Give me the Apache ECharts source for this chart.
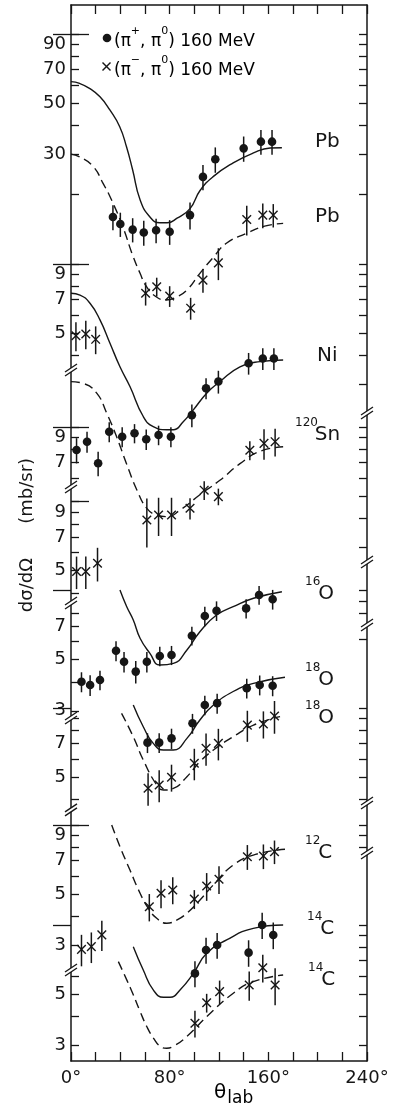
<!DOCTYPE html>
<html>
<head>
<meta charset="utf-8">
<script src="https://cdn.jsdelivr.net/npm/echarts@6/dist/echarts.min.js"></script>
<style>
  html, body { margin: 0; padding: 0; background: #fff; }
  #chart { width: 397px; height: 1118px; }
</style>
</head>
<body>
<div id="chart"></div>
<script>
// angle in degrees, dσ/dΩ in mb/sr; each panel is read against its own broken-axis segment
const pbPlusCurve = [[0,62],[7,60.9],[15,58],[23.5,53.3],[31.5,46.7],[39.5,39.5],[45,32.3],[50,25.6],[56,19],[64,16],[72,15.1],[78,15.1],[86,15.8],[96.5,17.4],[104.5,20.8],[115,23.9],[131.5,27.5],[147.5,30.3],[161.5,31.9],[171,32]]
const pbPlusPts = [[34,16.0,2.0],[40,14.9,1.8],[50,14.1,1.7],[59,13.7,1.7],[69,14.0,1.7],[80,13.8,1.7],[96.5,16.3,2.2],[107,23.9,3.0],[117,28.5,3.6],[140,31.8,4.0],[154,34.0,4.2],[163,34.0,4.2]]
const pbMinusCurve = [[0,30],[7,29.2],[18,26.5],[26,22.4],[33,18.9],[42,14.5],[50,10.9],[56,9.1],[61,8.0],[69,7.2],[77,6.97],[86,7.2],[94,7.7],[104.5,9.1],[115.5,10.7],[126,12.3],[142.5,13.6],[157,14.6],[172,15.0]]
const pbMinusPts = [[4,4.87,0.7],[12,4.96,0.7],[20,4.7,0.65],[60.5,7.45,0.86],[69.5,7.96,0.75],[80,7.25,0.75],[97,6.42,0.7],[107,8.5,1.0],[119.5,10.1,1.6],[142.5,15.6,2.3],[155.5,16.3,2.0],[164,16.3,1.9]]
const niCurve = [[0,7.45],[7.3,7.32],[15.4,6.74],[23.5,5.71],[31.6,4.52],[39.7,3.57],[47.8,2.93],[58.6,2.17],[66.7,1.96],[77.6,1.9],[83,1.9],[91,2.06],[99.2,2.32],[110,2.74],[120.8,3.08],[137,3.57],[153.3,3.76],[172,3.82]]
const niPts = [[98,2.2,0.25],[109.5,2.88,0.3],[119.5,3.08,0.35],[144,3.7,0.4],[155.5,3.88,0.42],[164.5,3.88,0.42]]
const snPlusPts = [[4.5,7.94,1.0],[13,8.63,0.9],[22,6.95,0.85],[31,9.54,0.95],[41.5,9.07,0.9],[51.5,9.39,0.9],[61,8.84,0.9],[71,9.23,0.9],[81,9.07,0.9]]
const snMinusCurve = [[0,33.2],[10,32.6],[21,29.5],[29,24.2],[37,19.1],[45,14.6],[53.5,11.2],[61.5,9.34],[69.5,8.73],[77.5,8.59],[88.5,9.18],[104.5,10.7],[121,12.4],[137,14.6],[153,16.5],[172,17.3]]
const snMinusPts = [[4.5,4.96,0.8],[12,4.96,0.8],[21.5,5.39,0.9],[61.5,8.31,2.0],[71,8.73,1.65],[81.5,8.73,1.65],[96.5,9.34,1.0],[108,11.2,1.05],[119.5,10.5,0.87],[145,16.7,1.6],[156.5,17.9,2.7],[165.5,18.2,2.5]]
const o16Curve = [[39.7,10.05],[45.2,8.5],[50.5,7.44],[56,6.2],[64,5.33],[72,4.74],[83,4.82],[94,5.51],[104.5,6.62],[118,7.82],[131.5,8.5],[148,9.25],[171,9.88]]
const o16Pts = [[8.5,4.01,0.4],[15.5,3.88,0.4],[23.5,4.08,0.4],[36.5,5.47,0.55],[43,4.9,0.5],[52.5,4.44,0.5],[61.5,4.9,0.5],[72,5.19,0.5],[81.5,5.24,0.5],[98,6.36,0.6],[108.5,7.75,0.75],[118,8.17,0.8],[142,8.36,0.8],[152.5,9.56,0.9],[163.5,9.16,0.9]]
const o18PlusCurve = [[50.5,10.3],[58.6,8.29],[66.7,7.02],[75,6.57],[83,6.57],[94,7.38],[104.5,8.87],[115.5,10.3],[131.5,11.8],[148,12.8],[173.5,13.6]]
const o18PlusPts = [[62,7.07,0.7],[71.5,7.07,0.7],[81.5,7.38,0.75],[98.5,8.58,0.85],[108.5,10.3,1.0],[118.5,10.5,1.05],[142.5,12.2,1.2],[153,12.6,1.25],[163.5,12.5,1.25]]
const o18MinusCurve = [[41,9.48],[50.5,7.5],[58.6,5.94],[69.5,4.63],[75,4.4],[83,4.47],[94,5.03],[104.5,5.84],[115.5,6.57],[131.5,7.5],[148,8.43],[169.5,9.17]]
const o18MinusPts = [[62.5,4.48,0.72],[71.5,4.63,0.74],[81.5,5.0,0.67],[100,5.75,0.9],[109.5,6.68,1.07],[119.5,7.02,1.1],[143,8.43,1.3],[156,8.52,1.15],[165,9.23,1.5]]
const c12Curve = [[33,10.0],[39.7,8.05],[47.8,6.37],[56,5.05],[62.7,4.34],[69.5,3.93],[77.6,3.74],[85.7,3.86],[93.8,4.13],[104.6,4.72],[115.4,5.49],[131.6,6.7],[147.8,7.4],[173.5,7.84]]
const c12Pts = [[8.5,2.88,0.45],[16.5,2.96,0.45],[25,3.33,0.5],[63.5,4.41,0.6],[73,5.05,0.7],[82.5,5.22,0.7],[100,4.76,0.45],[110,5.43,0.75],[120,5.81,0.8],[143,7.28,0.9],[156,7.33,0.9],[165,7.66,0.9]]
const c14PlusCurve = [[50.5,8.05],[58.6,6.37],[66.7,5.22],[75,4.85],[80.3,4.85],[88.4,5.22],[99.2,6.16],[110,7.53],[126.2,8.61],[147.8,9.67],[172,10.0]]
const c14PlusPts = [[100.5,6.16,0.8],[109.5,7.79,1.0],[118.5,8.18,1.05],[144,7.58,1.0],[155,10.0,1.3],[164,9.05,1.2]]
const c14MinusCurve = [[38.4,6.93],[45.2,5.77],[50.5,4.97],[56,4.21],[61.4,3.62],[66.7,3.23],[72.2,2.97],[77.6,2.91],[83,2.97],[93.8,3.27],[110,3.99],[131.6,5.05],[147.8,5.67],[172,6.06]]
const c14MinusPts = [[100.5,3.74,0.5],[110,4.59,0.43],[120.5,5.13,0.6],[144.5,5.48,0.8],[155.5,6.52,0.9],[165.5,5.48,1.0]]

// axis segments: decade shift d, tick values, labelled values, long (decade) ticks
const leftSegs = [
  { d: 0, ticks: [100,90,80,70,60,50,40,30,20,10,9,8,7,6,5,4], labels: [90,70,50,30,9,7,5], long: [100,10] },
  { d: 0.709, ticks: [10,9,8,7,6], labels: [9,7], long: [10] },
  { d: 1.033, ticks: [10,9,8,7,6,5,4], labels: [9,7,5], long: [10] },
  { d: 1.42, ticks: [8,7,6,5,4,3], labels: [7,5,3], long: [] },
  { d: 1.931, ticks: [9,8,7,6,5,4], labels: [7,5], long: [] },
  { d: 2.4396, ticks: [10,9,8,7,6,5,4,3], labels: [9,7,5,3], long: [10] },
  { d: 2.8743, ticks: [6,5,4,3], labels: [5,3], long: [] }
]
const rightSegs = [
  { d: 0, ticks: [100,90,80,70,60,50,40,30,20,10,9,8,7,6,5,4,3], long: [100,10] },
  { d: 0.709, ticks: [10,9,8,7,6,5,4,3], long: [10] },
  { d: 1.42, ticks: [10,9,8], long: [10] },
  { d: 1.931, ticks: [20,10,9,8,7,6,5,4], long: [10] },
  { d: 2.4396, ticks: [10,9,8], long: [10] },
  { d: 2.8743, ticks: [10,9,8,7,6,5,4,3], long: [10] }
]
const leftBreaks = [0.539, 0.030, -0.474, -0.974, -1.374, -2.070]
const rightBreaks = [0.352, -0.296, -0.570, -1.344, -1.561]
const U_MAX = 2.1257
const U_MIN = -2.4657

const INK = '#161616'
const FONT = 'DejaVu Sans'

const toU = (v, d) => Math.log10(v) - d

const panels = [
  { curve: pbPlusCurve, pts: pbPlusPts, d: 0, dashed: false, mark: 'dot' },
  { curve: pbMinusCurve, pts: pbMinusPts, d: 0, dashed: true, mark: 'cross' },
  { curve: niCurve, pts: niPts, d: 0, dashed: false, mark: 'dot' },
  { curve: null, pts: snPlusPts, d: 0.709, dashed: false, mark: 'dot' },
  { curve: snMinusCurve, pts: snMinusPts, d: 1.033, dashed: true, mark: 'cross' },
  { curve: o16Curve, pts: o16Pts, d: 1.42, dashed: false, mark: 'dot' },
  { curve: o18PlusCurve, pts: o18PlusPts, d: 1.931, dashed: false, mark: 'dot' },
  { curve: o18MinusCurve, pts: o18MinusPts, d: 1.931, dashed: true, mark: 'cross' },
  { curve: c12Curve, pts: c12Pts, d: 2.4396, dashed: true, mark: 'cross' },
  { curve: c14PlusCurve, pts: c14PlusPts, d: 2.8743, dashed: false, mark: 'dot' },
  { curve: c14MinusCurve, pts: c14MinusPts, d: 2.8743, dashed: true, mark: 'cross' }
]

const seg = (x1, y1, x2, y2, w) => ({ type: 'line', shape: { x1, y1, x2, y2 }, style: { stroke: INK, lineWidth: w || 1.5 } })

const markRenderer = kind => (params, api) => {
  const p = api.coord([api.value(0), api.value(1)])
  const lo = api.coord([api.value(0), api.value(2)])
  const hi = api.coord([api.value(0), api.value(3)])
  const kids = [seg(p[0], lo[1], p[0], hi[1], 1.5)]
  if (kind === 'dot') {
    kids.push({ type: 'circle', shape: { cx: p[0], cy: p[1], r: 4.3 }, style: { fill: INK } })
  } else {
    const s = 4.3
    kids.push(seg(p[0] - s, p[1] - s, p[0] + s, p[1] + s, 1.4), seg(p[0] - s, p[1] + s, p[0] + s, p[1] - s, 1.4))
  }
  return { type: 'group', children: kids }
}

const breakRenderer = (params, api) => {
  const p = api.coord([api.value(0), api.value(1)])
  return {
    type: 'group',
    children: [
      { type: 'rect', shape: { x: p[0] - 2.5, y: p[1] - 2, width: 5, height: 4 }, style: { fill: '#fff' } },
      seg(p[0] - 6, p[1] + 2, p[0] + 6, p[1] - 6, 1.3),
      seg(p[0] - 6, p[1] + 6, p[0] + 6, p[1] - 2, 1.3)
    ]
  }
}

const series = []
panels.forEach(pn => {
  if (pn.curve) {
    series.push({
      type: 'line',
      data: pn.curve.map(c => [c[0], toU(c[1], pn.d)]),
      showSymbol: false,
      smooth: 0.5,
      silent: true,
      lineStyle: { color: INK, width: 1.4, type: pn.dashed ? [9, 5] : 'solid' },
      z: 3
    })
  }
  series.push({
    type: 'custom',
    renderItem: markRenderer(pn.mark),
    data: pn.pts.map(p => [p[0], toU(p[1], pn.d), toU(p[1] - p[2], pn.d), toU(p[1] + p[2], pn.d)]),
    silent: true,
    z: 4
  })
})
series.push({
  type: 'custom',
  renderItem: breakRenderer,
  data: leftBreaks.map(b => [0, b]).concat(rightBreaks.map(b => [240, b])),
  clip: false,
  silent: true,
  z: 10
})

const tickVals = segs => segs.flatMap(s => s.ticks.map(t => toU(t, s.d)))
const longVals = segs => segs.flatMap(s => s.long.map(t => toU(t, s.d)))
const labelMap = {}
leftSegs.forEach(s => s.labels.forEach(t => { labelMap[toU(t, s.d).toFixed(4)] = String(t) }))
const labelVals = leftSegs.flatMap(s => s.labels.map(t => toU(t, s.d)))

const axisLine = { show: true, onZero: false, lineStyle: { color: INK, width: 1.5 } }
const yBase = { type: 'value', min: U_MIN, max: U_MAX, splitLine: { show: false } }

const xAxisBase = {
  type: 'value', min: 0, max: 240, interval: 20,
  axisLine: axisLine,
  splitLine: { show: false },
  axisTick: { inside: true, length: 9, lineStyle: { color: INK, width: 1.3 } }
}

// nucleus tags at the right: [mass number, element, left x, element centre y]
const nucleusLabels = [
  ['', 'Pb', 315, 142], ['', 'Pb', 315, 217], ['', 'Ni', 317, 356],
  ['120', 'Sn', 295, 435], ['16', 'O', 305, 594], ['18', 'O', 305, 680], ['18', 'O', 305, 718],
  ['12', 'C', 305, 853], ['14', 'C', 307, 929], ['14', 'C', 308, 980]
]
const supWidth = s => s.length * 6.6

const legendRich = {
  t: { fontSize: 17, fontFamily: FONT, color: INK, lineHeight: 24, verticalAlign: 'bottom' },
  s: { fontSize: 11, fontFamily: FONT, color: INK, lineHeight: 11, verticalAlign: 'top' }
}

const graphic = [
  { type: 'circle', shape: { cx: 107, cy: 38, r: 4.3 }, style: { fill: INK } },
  { type: 'line', shape: { x1: 102.5, y1: 62.5, x2: 110.5, y2: 70.5 }, style: { stroke: INK, lineWidth: 1.4 } },
  { type: 'line', shape: { x1: 102.5, y1: 70.5, x2: 110.5, y2: 62.5 }, style: { stroke: INK, lineWidth: 1.4 } },
  { type: 'text', x: 114, y: 38, style: { text: '{t|(π}{s|+}{t|, π}{s|0}{t|) 160 MeV}', rich: legendRich, verticalAlign: 'middle' } },
  { type: 'text', x: 114, y: 67, style: { text: '{t|(π}{s|−}{t|, π}{s|0}{t|) 160 MeV}', rich: legendRich, verticalAlign: 'middle' } },
  { type: 'text', x: 27, y: 535, rotation: Math.PI / 2, style: { text: 'dσ/dΩ      (mb/sr)', fontSize: 18, fontFamily: FONT, fill: INK, align: 'center', verticalAlign: 'middle' } },
  { type: 'text', x: 214, y: 1083, style: {
      text: '{t|θ}{s|lab}',
      rich: {
        t: { fontSize: 20, fontFamily: FONT, color: INK, lineHeight: 24, verticalAlign: 'top' },
        s: { fontSize: 17, fontFamily: FONT, color: INK, lineHeight: 17, padding: [18, 0, 0, 1], verticalAlign: 'bottom' }
      },
      verticalAlign: 'top'
  } }
]
nucleusLabels.forEach(n => {
  if (n[0]) {
    graphic.push({ type: 'text', x: n[2], y: n[3] - 12, style: { text: n[0], fontSize: 12, fontFamily: FONT, fill: INK, verticalAlign: 'middle' } })
  }
  graphic.push({ type: 'text', x: n[2] + (n[0] ? supWidth(n[0]) : 0), y: n[3], style: { text: n[1], fontSize: 20, fontFamily: FONT, fill: INK, verticalAlign: 'middle' } })
})

const chart = echarts.init(document.getElementById('chart'))
chart.setOption({
  animation: false,
  backgroundColor: '#fff',
  grid: { left: 71, right: 30, top: 5, bottom: 57, outerBoundsMode: 'none' },
  xAxis: [
    Object.assign({}, xAxisBase, {
      position: 'bottom',
      axisLabel: { formatter: v => (v % 80 === 0 ? v + '°' : ''), color: INK, fontSize: 18, fontFamily: FONT, margin: 8 }
    }),
    Object.assign({}, xAxisBase, { position: 'top', axisLabel: { show: false } })
  ],
  yAxis: [
    Object.assign({}, yBase, {
      position: 'left',
      axisLine: axisLine,
      axisTick: { inside: true, length: 8, customValues: tickVals(leftSegs), lineStyle: { color: INK, width: 1.3 } },
      axisLabel: { customValues: labelVals, formatter: v => labelMap[v.toFixed(4)] || '', color: INK, fontSize: 18, fontFamily: FONT, margin: 5 }
    }),
    Object.assign({}, yBase, {
      position: 'left',
      axisLine: { show: false },
      axisTick: { inside: true, length: 18, customValues: longVals(leftSegs), lineStyle: { color: INK, width: 1.3 } },
      axisLabel: { show: false }
    }),
    Object.assign({}, yBase, {
      position: 'right',
      axisLine: axisLine,
      axisTick: { inside: true, length: 8, customValues: tickVals(rightSegs), lineStyle: { color: INK, width: 1.3 } },
      axisLabel: { show: false }
    }),
    Object.assign({}, yBase, {
      position: 'right',
      axisLine: { show: false },
      axisTick: { inside: true, length: 18, customValues: longVals(rightSegs), lineStyle: { color: INK, width: 1.3 } },
      axisLabel: { show: false }
    })
  ],
  graphic: graphic,
  series: series
})
</script>
</body>
</html>
